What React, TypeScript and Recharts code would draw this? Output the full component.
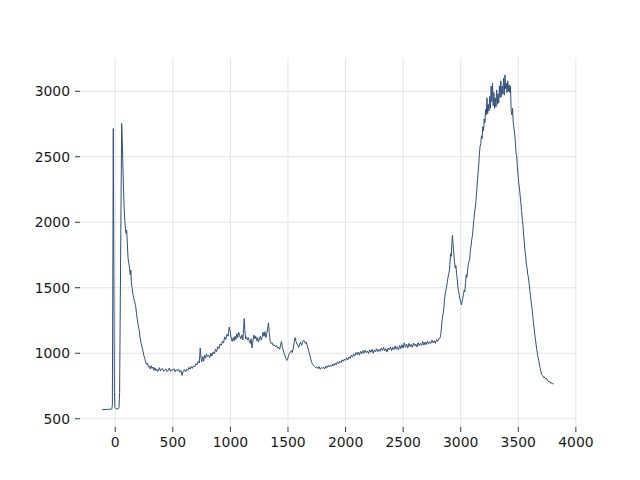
import React from 'react';
import { LineChart, Line, XAxis, YAxis, ReferenceLine } from 'recharts';

// [x, y] pairs, split by region
const leadIn: [number, number][] = [
  [-115, 568], [-100, 570], [-80, 571], [-60, 572], [-40, 573], [-30, 575], [-25, 600], [-21, 1600],
  [-17, 2716], [-12, 1600], [-7, 700], [-3, 585], [5, 577], [15, 575], [25, 576], [33, 585],
  [38, 700], [44, 1400], [50, 2100], [56, 2754], [60, 2650], [66, 2450], [72, 2250], [78, 2100],
  [84, 2000], [90, 1930], [95, 1915], [99, 1940], [103, 1880], [108, 1780], [112, 1720], [118, 1690],
  [124, 1650], [130, 1600], [136, 1635], [140, 1540], [146, 1500], [152, 1460], [160, 1420], [168, 1395],
  [176, 1370], [184, 1310], [192, 1255], [200, 1210], [208, 1175], [216, 1120], [224, 1080], [232, 1050],
  [240, 1020], [248, 985], [256, 960], [264, 935], [272, 915], [280, 925], [288, 895], [296, 900],
  [304, 880], [312, 905], [320, 885], [328, 895], [336, 870], [344, 890], [352, 868], [360, 880],
  [368, 860], [376, 872], [384, 890], [392, 865], [400, 878], [410, 885], [420, 862], [430, 874],
  [440, 880], [450, 860], [460, 870], [470, 888], [480, 862], [490, 875], [500, 870], [510, 882],
  [520, 858], [530, 874], [540, 866], [550, 880], [560, 855], [570, 868], [580, 830], [590, 862],
  [600, 875], [610, 858], [620, 880], [630, 870], [640, 892], [650, 878], [660, 900], [670, 885],
  [680, 905], [690, 896], [700, 920], [710, 912], [720, 938], [730, 925],
];

const midBand: [number, number][] = [
  [738, 1040], [745, 960], [752, 935], [760, 975], [768, 940], [776, 985], [784, 962], [792, 995],
  [800, 975], [810, 985], [820, 965], [830, 1000], [840, 978], [850, 1010], [860, 995], [870, 1030],
  [880, 1012], [890, 1050], [900, 1035], [910, 1070], [920, 1060], [930, 1090], [940, 1078], [950, 1125],
  [960, 1105], [970, 1145], [980, 1130], [990, 1200], [1000, 1160], [1008, 1110], [1016, 1090], [1024, 1120],
  [1032, 1095], [1040, 1130], [1048, 1105], [1056, 1150], [1064, 1120], [1072, 1160], [1080, 1135], [1090, 1110],
  [1100, 1140], [1108, 1100], [1114, 1180], [1120, 1265], [1126, 1170], [1132, 1110], [1140, 1125], [1148, 1100],
  [1156, 1120], [1164, 1090], [1172, 1075], [1180, 1110], [1188, 1040], [1196, 1100], [1204, 1140], [1212, 1110],
  [1220, 1130], [1228, 1095], [1236, 1120], [1244, 1085], [1252, 1110], [1260, 1130], [1268, 1100], [1276, 1125],
  [1284, 1160], [1292, 1130], [1300, 1165], [1308, 1120], [1316, 1150], [1324, 1190], [1331, 1232], [1338, 1150],
  [1346, 1090], [1354, 1075], [1362, 1080], [1370, 1060], [1380, 1065], [1390, 1050], [1400, 1060], [1410, 1040],
  [1420, 1045], [1428, 1030], [1436, 1065], [1444, 1090], [1450, 1050], [1458, 1025], [1466, 1000], [1474, 985],
  [1482, 960], [1490, 945], [1498, 960], [1506, 985], [1514, 1000], [1522, 1010], [1530, 1020], [1538, 1005],
  [1546, 1040], [1554, 1080], [1562, 1120], [1570, 1090], [1578, 1070], [1586, 1060], [1594, 1045], [1602, 1070],
  [1610, 1085], [1618, 1060], [1626, 1080], [1634, 1100], [1642, 1095], [1650, 1075], [1658, 1085], [1666, 1060],
  [1674, 1040], [1682, 1010], [1690, 985], [1698, 955], [1706, 930], [1714, 915], [1722, 905], [1730, 900],
];

const plateau: [number, number][] = [
  [1740, 890], [1750, 895], [1760, 882], [1770, 898], [1780, 878], [1790, 890], [1800, 885], [1810, 895],
  [1820, 880], [1830, 902], [1840, 890], [1850, 908], [1860, 895], [1870, 912], [1880, 900], [1890, 918],
  [1900, 905], [1910, 925], [1920, 912], [1930, 935], [1940, 920], [1950, 940], [1960, 928], [1970, 950],
  [1980, 938], [1990, 955], [2000, 945], [2010, 965], [2020, 950], [2030, 972], [2040, 960], [2050, 985],
  [2060, 970], [2070, 995], [2080, 980], [2090, 1005], [2100, 990], [2110, 1010], [2120, 985], [2130, 1015],
  [2140, 995], [2150, 1020], [2160, 1000], [2170, 1025], [2180, 1005], [2190, 1018], [2200, 998], [2210, 1025],
  [2220, 1008], [2230, 1030], [2240, 1000], [2250, 1025], [2260, 1010], [2270, 1035], [2280, 1012], [2290, 1030],
  [2300, 1015], [2310, 1040], [2320, 1020], [2330, 1045], [2340, 1018], [2350, 1035], [2360, 1010], [2370, 1040],
  [2380, 1025], [2390, 1048], [2400, 1020], [2410, 1045], [2420, 1028], [2430, 1055], [2440, 1030], [2450, 1050],
  [2460, 1025], [2470, 1060], [2480, 1035], [2490, 1065], [2500, 1040], [2510, 1080], [2520, 1045], [2530, 1070],
  [2540, 1040], [2550, 1075], [2560, 1050], [2570, 1068], [2580, 1045], [2590, 1078], [2600, 1055], [2610, 1070],
  [2620, 1048], [2630, 1080], [2640, 1058], [2650, 1075], [2660, 1060], [2670, 1090], [2680, 1062], [2690, 1085],
  [2700, 1065], [2710, 1092], [2720, 1070], [2730, 1088], [2740, 1075], [2750, 1100], [2760, 1080], [2770, 1095],
  [2780, 1075], [2790, 1105], [2800, 1090], [2810, 1110],
];

const mainPeak: [number, number][] = [
  [2820, 1115], [2828, 1150], [2836, 1230], [2844, 1290], [2852, 1330], [2860, 1420], [2868, 1470], [2876, 1500],
  [2884, 1550], [2892, 1590], [2900, 1620], [2906, 1680], [2912, 1760], [2918, 1740], [2924, 1850], [2928, 1900],
  [2934, 1830], [2940, 1760], [2946, 1700], [2952, 1650], [2958, 1670], [2964, 1610], [2970, 1560], [2976, 1500],
  [2982, 1470], [2988, 1440], [2994, 1410], [3000, 1390], [3006, 1370], [3012, 1395], [3018, 1420], [3024, 1450],
  [3030, 1480], [3036, 1470], [3042, 1540], [3048, 1600], [3054, 1580], [3060, 1640], [3066, 1680], [3072, 1700],
  [3078, 1720], [3084, 1790], [3090, 1820], [3096, 1870], [3102, 1900], [3108, 1960], [3114, 2020], [3120, 2070],
  [3126, 2110], [3132, 2160], [3138, 2230], [3144, 2300], [3150, 2370], [3156, 2430], [3162, 2520], [3168, 2580],
  [3174, 2600], [3180, 2660], [3186, 2640], [3192, 2730], [3198, 2700], [3204, 2790], [3210, 2760], [3216, 2860],
  [3222, 2820], [3228, 2950], [3234, 2830], [3240, 2900], [3246, 2850], [3252, 2960], [3258, 2870], [3264, 3040],
  [3270, 2920], [3276, 3060], [3282, 2890], [3288, 2990], [3294, 2870], [3300, 2950], [3306, 2880], [3312, 3010],
  [3318, 2900], [3324, 2980], [3330, 2910], [3336, 3040], [3342, 2950], [3348, 3080], [3354, 2960], [3360, 3040],
  [3366, 2980], [3372, 3100], [3378, 2970], [3384, 3125], [3390, 3020], [3396, 3060], [3402, 2990], [3408, 3080],
  [3414, 3000], [3420, 3050], [3426, 2990], [3432, 3040], [3438, 2850], [3444, 2820], [3450, 2870], [3456, 2760],
];

const tail: [number, number][] = [
  [3462, 2720], [3468, 2680], [3474, 2620], [3480, 2530], [3486, 2500], [3492, 2420], [3498, 2360], [3504, 2300],
  [3510, 2260], [3516, 2200], [3522, 2150], [3528, 2090], [3534, 2030], [3540, 1980], [3546, 1910], [3552, 1850],
  [3558, 1780], [3564, 1740], [3570, 1680], [3576, 1650], [3582, 1600], [3588, 1580], [3594, 1530], [3600, 1480],
  [3606, 1440], [3612, 1390], [3618, 1350], [3624, 1300], [3630, 1250], [3636, 1200], [3642, 1150], [3648, 1110],
  [3654, 1070], [3660, 1030], [3666, 1000], [3672, 965], [3678, 940], [3684, 910], [3690, 885], [3696, 860],
  [3702, 840], [3710, 830], [3718, 815], [3726, 820], [3734, 805], [3742, 810], [3750, 795], [3758, 790],
  [3766, 780], [3774, 785], [3782, 770], [3790, 775], [3798, 765], [3805, 768],
];

const xTicks = [0, 500, 1000, 1500, 2000, 2500, 3000, 3500, 4000];
const yTicks = [500, 1000, 1500, 2000, 2500, 3000];

const data = [...leadIn, ...midBand, ...plateau, ...mainPeak, ...tail].map(([x, y]) => ({ x, y }));

const tickStyle = { fill: '#1a1a1a', fontSize: 13.9, fontFamily: 'DejaVu Sans' };
const gridColor = '#e4e4e4';

export default function App() {
  return (
    <div style={{ position: 'absolute', left: 0, top: 0, width: 640, height: 480, background: '#fff' }}>
      <LineChart width={640} height={480} data={data} margin={{ top: 58, right: 64, bottom: 0, left: 0 }}>
        <XAxis
          dataKey="x"
          type="number"
          domain={[-306, 4001]}
          allowDataOverflow
          ticks={xTicks}
          interval={0}
          axisLine={false}
          tickLine={{ stroke: '#333' }}
          tickSize={5}
          tickMargin={5}
          height={53}
          tick={tickStyle}
        />
        <YAxis
          type="number"
          domain={[437, 3254]}
          allowDataOverflow
          ticks={yTicks}
          interval={0}
          axisLine={false}
          tickLine={{ stroke: '#333' }}
          tickSize={5}
          tickMargin={5}
          width={80}
          tick={tickStyle}
        />
        {yTicks.map((t) => (
          <ReferenceLine key={`gy-${t}`} y={t} stroke={gridColor} strokeWidth={1} />
        ))}
        {xTicks.map((t) => (
          <ReferenceLine key={`gx-${t}`} x={t} stroke={gridColor} strokeWidth={1} />
        ))}
        <Line
          type="linear"
          dataKey="y"
          stroke="#30507a"
          strokeWidth={1}
          dot={false}
          isAnimationActive={false}
        />
      </LineChart>
    </div>
  );
}
